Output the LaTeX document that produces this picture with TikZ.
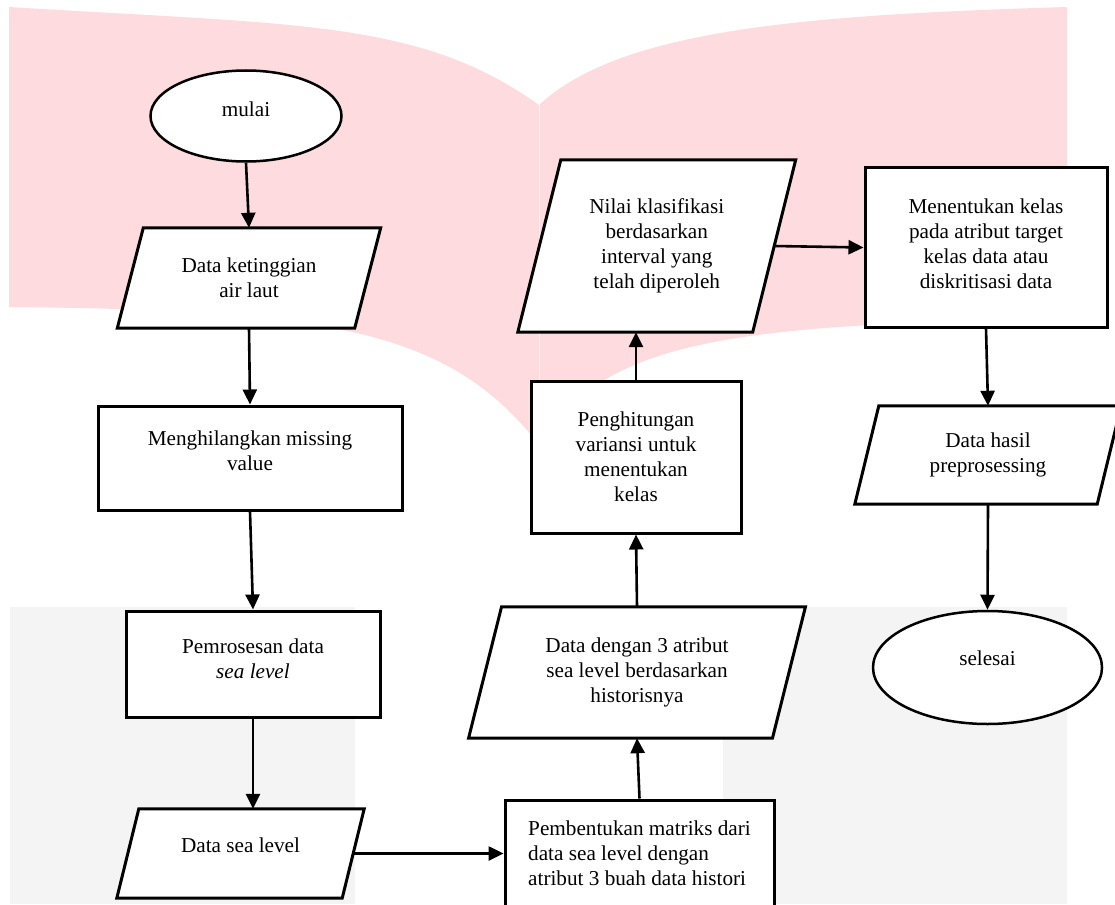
\documentclass[tikz,border=0pt]{standalone}
\usepackage{fontspec}
\setmainfont{Liberation Serif}
\usetikzlibrary{shapes.geometric,arrows.meta}
\pgfdeclarelayer{back}
\pgfdeclarelayer{mid}
\pgfsetlayers{back,mid,main}
\definecolor{bookpink}{RGB}{253,219,222}
\definecolor{wmgrey}{RGB}{244,244,244}
\begin{document}
\begin{tikzpicture}[x=1pt,y=-1pt,
  every node/.style={font=\fontsize{21.2}{25}\selectfont, align=center},
  lab/.style={inner sep=0pt, align=center},
  term/.style={ellipse, draw, fill=white, line width=2.5pt, inner sep=0pt},
  procbox/.style={rectangle, draw, fill=white, line width=3pt, inner sep=0pt},
  datanode/.style={rectangle, inner sep=0pt},
  paraline/.style={line width=3pt, fill=white, line join=miter},
  flow/.style={-{Triangle[length=15pt,width=14pt]}, line width=2.6pt}]
\useasboundingbox (0,0) rectangle (1115,904);

% background watermark
\begin{pgfonlayer}{back}
\fill[wmgrey] (10,607) rectangle (355,904);
\fill[wmgrey] (723,607) rectangle (1067,904);
\fill[bookpink] (9,7) .. controls (300,25) and (420,20) .. (539,105)
  .. controls (620,30) and (800,15) .. (1067,7) -- (1067,320)
  .. controls (700,322) and (600,350) .. (539,445)
  .. controls (450,330) and (330,310) .. (9,307) -- cycle;
\draw[white!70!bookpink, line width=1pt] (539,105) -- (539,445);
\end{pgfonlayer}

% nodes
\node[term, minimum width=191pt, minimum height=91pt,
  label={[lab,yshift=7pt]center:mulai}] (start) at (246,116) {};
\node[datanode, minimum width=237pt, minimum height=100pt] (n1) at (249,278)
  {Data ketinggian\\air laut};
\node[procbox, minimum width=304pt, minimum height=104pt,
  label={[lab,yshift=7.5pt]center:{Menghilangkan missing\\value}}] (n2) at (250,458) {};
\node[procbox, minimum width=254pt, minimum height=106pt,
  label={[lab,yshift=5.5pt]center:{Pemrosesan data\\\textit{sea level}}}] (n3) at (253,664) {};
\node[datanode, minimum width=225pt, minimum height=89pt,
  label={[lab,yshift=8.5pt]center:{Data sea level}}] (n4) at (240.5,853.5) {};
\node[procbox, minimum width=269pt, minimum height=110pt,
  label={[lab,yshift=2pt,align=left]center:{Pembentukan matriks dari\\data sea level dengan\\atribut 3 buah data histori}}] (n5) at (639.5,855) {};
\node[datanode, minimum width=303.5pt, minimum height=131pt] (n6) at (637,672.5)
  {Data dengan 3 atribut\\sea level berdasarkan\\historisnya};
\node[procbox, minimum width=210pt, minimum height=152pt] (n7) at (636,457)
  {Penghitungan\\variansi untuk\\menentukan\\kelas};
\node[datanode, minimum width=234.5pt, minimum height=172pt] (n8) at (656.75,246)
  {Nilai klasifikasi\\berdasarkan\\interval yang\\telah diperoleh};
\node[procbox, minimum width=242pt, minimum height=159pt,
  label={[lab,yshift=3.5pt]center:{Menentukan kelas\\pada atribut target\\kelas data atau\\diskritisasi data}}] (n9) at (986,247.5) {};
\node[datanode, minimum width=242pt, minimum height=98pt] (n10) at (988,455)
  {Data hasil\\preprosessing};
\node[term, minimum width=229pt, minimum height=113pt,
  label={[lab,yshift=9.5pt]center:selesai}] (end) at (987.5,667.5) {};

% parallelogram outlines
\begin{pgfonlayer}{mid}
\foreach \n/\s in {n1/13, n4/11, n6/16.5, n8/21.5, n10/12} {
  \draw[paraline] ([xshift=\s pt]\n.north west) -- ([xshift=\s pt]\n.north east)
    -- ([xshift=-\s pt]\n.south east) -- ([xshift=-\s pt]\n.south west) -- cycle;
}
\end{pgfonlayer}

% connectors
\draw[flow] (start.south) -- (n1.north);
\draw[flow] (n1.south) -- (n2.north);
\draw[flow] (n2.south) -- (n3.north);
\draw[flow] (n3.south) -- (n3.south |- n4.north);
\draw[flow] (n4.east) -- (n4.east -| n5.west);
\draw[flow] (n5.north) -- (n6.south);
\draw[flow] (n6.north) -- (n7.south);
\draw[flow] (n7.north) -- (n7.north |- n8.south);
\draw[flow] (n8.east) -- (n9.west);
\draw[flow] (n9.south) -- (n10.north);
\draw[flow] (n10.south) -- (end.north);
\end{tikzpicture}
\end{document}
